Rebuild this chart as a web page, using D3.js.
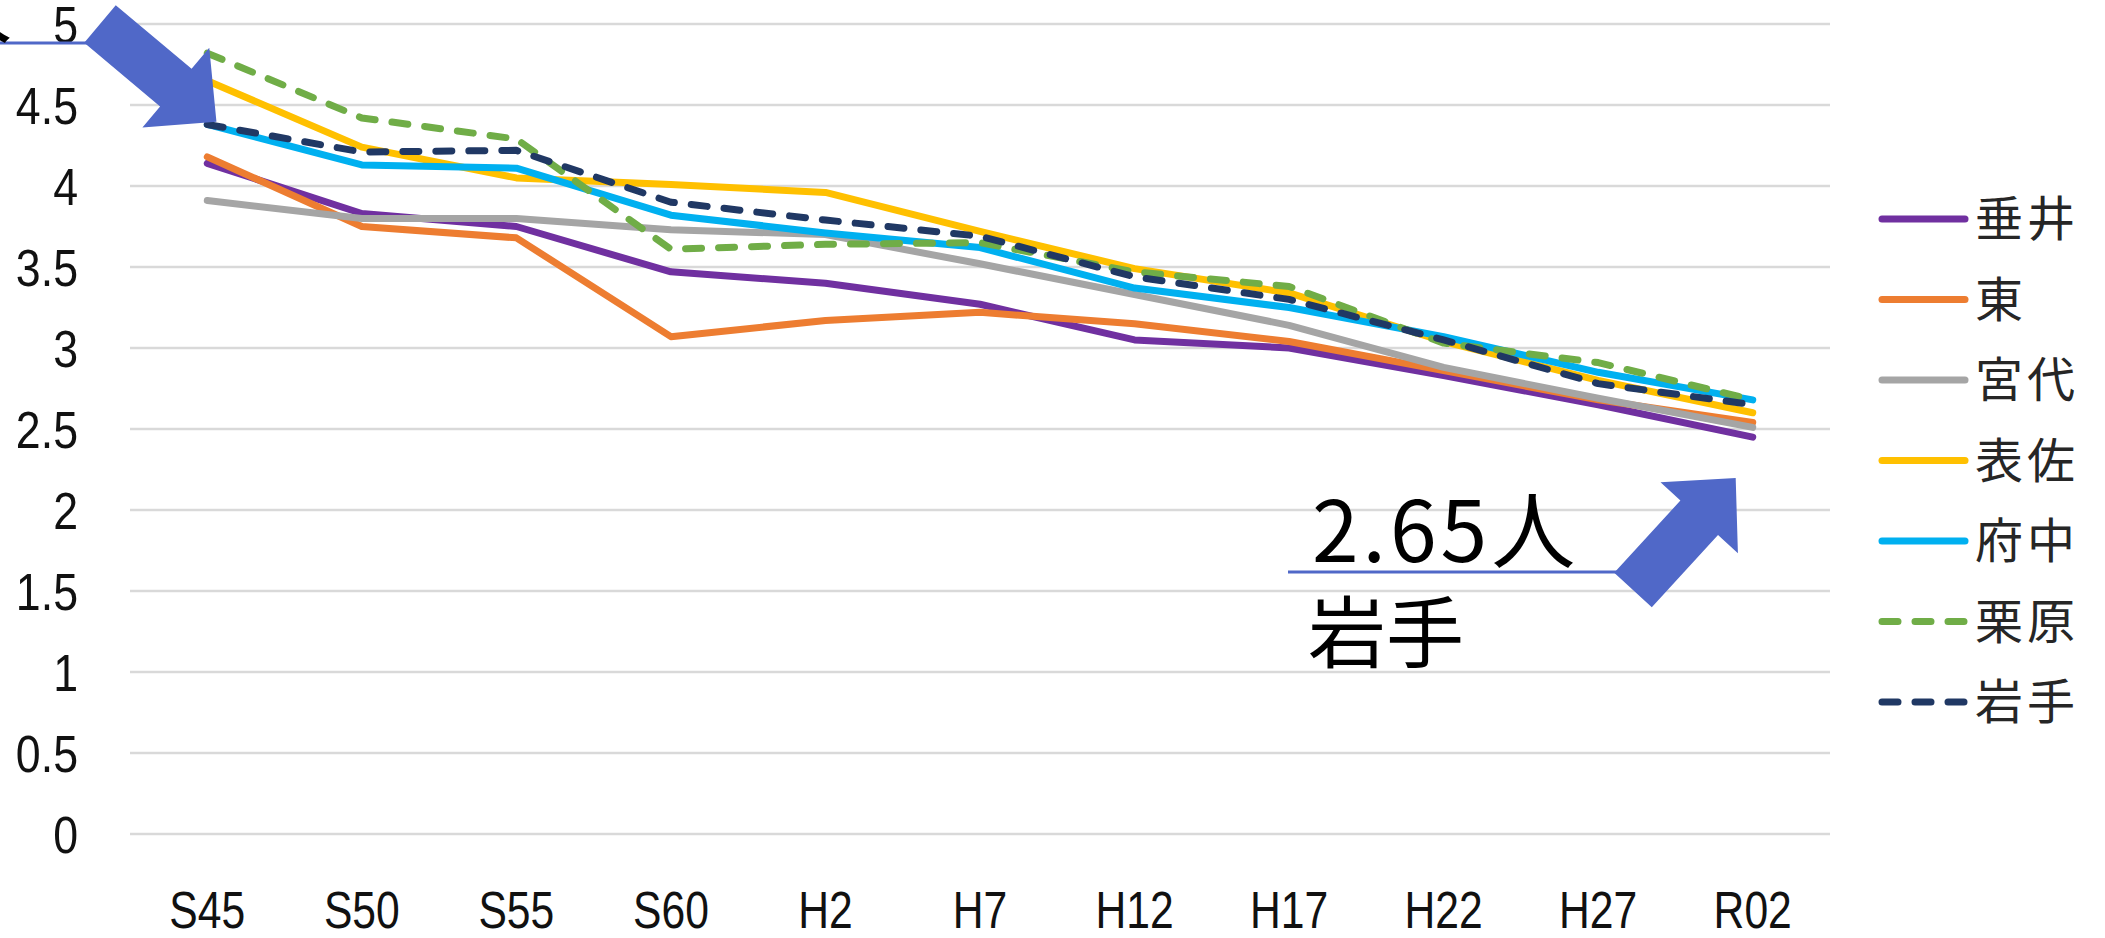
<!DOCTYPE html>
<html>
<head>
<meta charset="utf-8">
<script src="https://cdn.jsdelivr.net/npm/d3@7"></script>
<style>
  html, body { margin: 0; padding: 0; background: #ffffff; overflow: hidden; }
  svg { display: block; }
</style>
</head>
<body>
<svg id="chart" width="2105" height="938"></svg>
<script>
// ---- data ----
const categories = ["S45", "S50", "S55", "S60", "H2", "H7", "H12", "H17", "H22", "H27", "R02"];
const seriesNames = ["垂井", "東", "宮代", "表佐", "府中", "栗原", "岩手"];
const tarui   = [4.14, 3.83, 3.75, 3.47, 3.40, 3.27, 3.05, 3.00, 2.83, 2.65, 2.45];
const higashi = [4.18, 3.75, 3.68, 3.07, 3.17, 3.22, 3.15, 3.04, 2.86, 2.68, 2.54];
const miyashiro = [3.91, 3.80, 3.80, 3.73, 3.70, 3.52, 3.33, 3.14, 2.88, 2.69, 2.51];
const omosa   = [4.65, 4.24, 4.05, 4.01, 3.96, 3.72, 3.49, 3.34, 3.04, 2.80, 2.60];
const fuchu   = [4.38, 4.13, 4.11, 3.82, 3.71, 3.62, 3.37, 3.25, 3.07, 2.85, 2.68];
const kurihara = [4.82, 4.42, 4.29, 3.61, 3.64, 3.65, 3.47, 3.38, 3.03, 2.91, 2.68];
const iwate   = [4.38, 4.21, 4.22, 3.90, 3.79, 3.69, 3.44, 3.30, 3.05, 2.78, 2.65];
const seriesValues = [tarui, higashi, miyashiro, omosa, fuchu, kurihara, iwate];
const yTicks = [0, 0.5, 1, 1.5, 2, 2.5, 3, 3.5, 4, 4.5, 5];
const calloutValue = "2.65人";
const calloutName = "岩手";

// ---- styles ----
const colors = ["#7030A0", "#ED7D31", "#A5A5A5", "#FFC000", "#00B0F0", "#70AD47", "#203864"];
const dashed = [false, false, false, false, false, true, true];
const arrowColor = "#5068C8";

const svg = d3.select("#chart");
const plot = { left: 130, right: 1830, top: 24, bottom: 834 };

const x = d3.scaleBand().domain(categories).range([plot.left, plot.right]);
const y = d3.scaleLinear().domain([0, 5]).range([plot.bottom, plot.top]);
const cx = c => x(c) + x.bandwidth() / 2;

// gridlines
svg.append("g")
  .selectAll("line").data(yTicks).join("line")
  .attr("x1", plot.left).attr("x2", plot.right)
  .attr("y1", d => y(d)).attr("y2", d => y(d))
  .attr("stroke", "#D9D9D9").attr("stroke-width", 2.4);

// y axis labels
const yAxis = d3.axisLeft(y).tickValues(yTicks).tickSize(0).tickPadding(0)
  .tickFormat(d => String(d));
const gy = svg.append("g").attr("transform", "translate(78,0)").call(yAxis);
gy.select(".domain").remove();
gy.selectAll("text")
  .attr("font-family", "'Liberation Sans', Arial, sans-serif")
  .attr("font-size", 52).attr("fill", "#111")
  .attr("dy", "0.36em")
  .attr("transform", "scale(0.86,1)");

// x axis labels
const xAxis = d3.axisBottom(x).tickSize(0).tickPadding(0);
const gx = svg.append("g").attr("transform", "translate(0,928)").call(xAxis);
gx.select(".domain").remove();
gx.selectAll("text")
  .attr("font-family", "'Liberation Sans', Arial, sans-serif")
  .attr("font-size", 52).attr("fill", "#111")
  .attr("dy", 0).attr("y", 0)
  .attr("transform", "scale(0.82,1)");

// lines
const line = d3.line().x((d, i) => cx(categories[i])).y(d => y(d));
seriesValues.forEach((vals, k) => {
  svg.append("path")
    .datum(vals)
    .attr("d", line)
    .attr("fill", "none")
    .attr("stroke", colors[k])
    .attr("stroke-width", 7)
    .attr("stroke-linejoin", "round")
    .attr("stroke-linecap", "round")
    .attr("stroke-dasharray", dashed[k] ? "16,17" : null);
});

// legend
const legend = svg.append("g");
seriesNames.forEach((name, k) => {
  const ly = 219 + k * 80.5;
  legend.append("line")
    .attr("x1", 1882).attr("x2", 1965).attr("y1", ly).attr("y2", ly)
    .attr("stroke", colors[k]).attr("stroke-width", 7)
    .attr("stroke-linecap", "round")
    .attr("stroke-dasharray", dashed[k] ? "16,17" : null);
  legend.append("text")
    .attr("x", 1975).attr("y", ly)
    .attr("dy", "0.36em")
    .attr("font-family", "'Noto Sans CJK JP', sans-serif")
    .attr("font-size", 48).attr("letter-spacing", 4).attr("fill", "#262626")
    .text(name);
});

// block arrow helper (tail midpoint, angle in degrees)
function blockArrow(tx, ty, angle, shaftLen, shaftW, headLen, headW) {
  const pts = [
    [0, -shaftW / 2], [shaftLen, -shaftW / 2], [shaftLen, -headW / 2],
    [shaftLen + headLen, 0],
    [shaftLen, headW / 2], [shaftLen, shaftW / 2], [0, shaftW / 2]
  ];
  svg.append("polygon")
    .attr("points", pts.map(p => p.join(",")).join(" "))
    .attr("transform", `translate(${tx},${ty}) rotate(${angle})`)
    .attr("fill", arrowColor);
}

// top-left callout (cut off at the edge)
svg.append("line").attr("x1", 0).attr("x2", 87).attr("y1", 43).attr("y2", 43)
  .attr("stroke", arrowColor).attr("stroke-width", 3);
svg.append("text").attr("x", 12).attr("y", 37).attr("text-anchor", "end")
  .attr("font-family", "'Noto Sans CJK JP', sans-serif").attr("font-size", 82)
  .attr("fill", "#000").text("人");
blockArrow(100, 24, 40, 99, 49, 53, 104);

// bottom-right callout
svg.append("line").attr("x1", 1288).attr("x2", 1618).attr("y1", 572).attr("y2", 572)
  .attr("stroke", arrowColor).attr("stroke-width", 3);
blockArrow(1633, 590, -47.5, 98, 51, 54, 105);
svg.append("text").attr("x", 1312).attr("y", 562)
  .attr("font-family", "'Noto Sans CJK JP', sans-serif").attr("font-size", 84)
  .attr("letter-spacing", 4).attr("fill", "#000").text(calloutValue);
svg.append("text").attr("x", 1308).attr("y", 662)
  .attr("font-family", "'Noto Sans CJK JP', sans-serif").attr("font-size", 78)
  .attr("fill", "#000").text(calloutName);
</script>
</body>
</html>
